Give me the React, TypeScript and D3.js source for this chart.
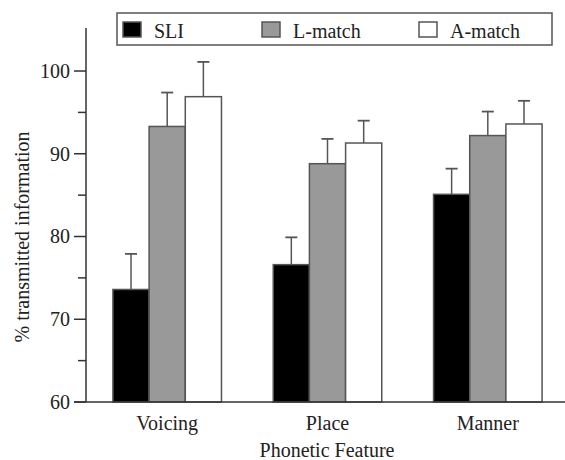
import * as d3 from "d3";
import React, { useEffect, useRef } from "react";

const features = ["Voicing", "Place", "Manner"];
const groups = ["SLI", "L-match", "A-match"];
const sliValues = [73.6, 76.6, 85.1];
const lMatchValues = [93.3, 88.8, 92.2];
const aMatchValues = [96.9, 91.3, 93.6];
const sliErrors = [4.3, 3.3, 3.1];
const lMatchErrors = [4.1, 3.0, 2.9];
const aMatchErrors = [4.2, 2.7, 2.8];
const majorTicks = [60, 70, 80, 90, 100];
const minorTicks = [65, 75, 85, 95];
const fills = ["#000000", "#999999", "#ffffff"];

function Chart() {
  const ref = useRef<SVGSVGElement | null>(null);

  useEffect(() => {
    const svg = d3.select(ref.current);
    svg.selectAll("*").remove();

    const axisX = 86;
    const values = [sliValues, lMatchValues, aMatchValues];
    const errors = [sliErrors, lMatchErrors, aMatchErrors];

    const y = d3.scaleLinear().domain([60, 105.2]).range([402, 28]);
    const x0 = d3
      .scaleBand()
      .domain(features)
      .range([axisX, axisX + 483])
      .paddingInner(0.323)
      .paddingOuter(0.168);
    const x1 = d3.scaleBand().domain(groups).range([0, x0.bandwidth()]);

    // bars + error bars
    groups.forEach((g, gi) => {
      const layer = svg.append("g");
      features.forEach((f, fi) => {
        const v = values[gi][fi];
        const e = errors[gi][fi];
        const cx = x0(f)! + x1(g)! + x1.bandwidth() / 2;
        layer
          .append("line")
          .attr("x1", cx)
          .attr("x2", cx)
          .attr("y1", y(v))
          .attr("y2", y(v + e))
          .attr("stroke", "#555")
          .attr("stroke-width", 1.5);
        layer
          .append("line")
          .attr("x1", cx - 6)
          .attr("x2", cx + 6)
          .attr("y1", y(v + e))
          .attr("y2", y(v + e))
          .attr("stroke", "#555")
          .attr("stroke-width", 1.8);
        layer
          .append("rect")
          .attr("x", x0(f)! + x1(g)!)
          .attr("y", y(v))
          .attr("width", x1.bandwidth())
          .attr("height", y(60) - y(v))
          .attr("fill", fills[gi])
          .attr("stroke", "#555")
          .attr("stroke-width", 1.5);
      });
    });

    // y axis
    svg
      .append("line")
      .attr("x1", axisX)
      .attr("x2", axisX)
      .attr("y1", y(105.2))
      .attr("y2", y(60))
      .attr("stroke", "#333")
      .attr("stroke-width", 1.5);
    svg
      .selectAll(".major")
      .data(majorTicks)
      .enter()
      .append("line")
      .attr("x1", axisX - 12)
      .attr("x2", axisX)
      .attr("y1", (d) => y(d))
      .attr("y2", (d) => y(d))
      .attr("stroke", "#333")
      .attr("stroke-width", 1.5);
    svg
      .selectAll(".minor")
      .data(minorTicks)
      .enter()
      .append("line")
      .attr("x1", axisX - 8)
      .attr("x2", axisX)
      .attr("y1", (d) => y(d))
      .attr("y2", (d) => y(d))
      .attr("stroke", "#333")
      .attr("stroke-width", 1.5);
    svg
      .selectAll(".ylab")
      .data(majorTicks)
      .enter()
      .append("text")
      .attr("x", axisX - 16)
      .attr("y", (d) => y(d))
      .attr("dy", "0.34em")
      .attr("text-anchor", "end")
      .text((d) => d);

    // x axis
    svg
      .append("line")
      .attr("x1", axisX - 12)
      .attr("x2", 570)
      .attr("y1", y(60))
      .attr("y2", y(60))
      .attr("stroke", "#333")
      .attr("stroke-width", 1.5);
    svg
      .selectAll(".xlab")
      .data(features)
      .enter()
      .append("text")
      .attr("x", (d) => x0(d)! + x0.bandwidth() / 2)
      .attr("y", 430)
      .attr("text-anchor", "middle")
      .text((d) => d);

    svg
      .append("text")
      .attr("x", 327)
      .attr("y", 457)
      .attr("text-anchor", "middle")
      .text("Phonetic Feature");

    svg
      .append("text")
      .attr("transform", "translate(29,237) rotate(-90)")
      .attr("text-anchor", "middle")
      .text("% transmitted information");

    // legend
    const legend = svg.append("g");
    legend
      .append("rect")
      .attr("x", 117)
      .attr("y", 13)
      .attr("width", 435)
      .attr("height", 32)
      .attr("fill", "#fff")
      .attr("stroke", "#555")
      .attr("stroke-width", 1.5);
    const legendX = [123, 262, 419];
    groups.forEach((g, i) => {
      legend
        .append("rect")
        .attr("x", legendX[i])
        .attr("y", 22)
        .attr("width", 18)
        .attr("height", 15)
        .attr("fill", fills[i])
        .attr("stroke", "#555")
        .attr("stroke-width", 1.5);
      legend
        .append("text")
        .attr("x", legendX[i] + 31)
        .attr("y", 38)
        .text(g);
    });
  }, []);

  return (
    <svg
      ref={ref}
      width={565}
      height={460}
      style={{
        position: "absolute",
        left: 0,
        top: 0,
        background: "#fff",
        fontFamily: "Liberation Serif, DejaVu Serif, serif",
        fontSize: 20,
        fill: "#222",
      }}
    />
  );
}

export default function App() {
  return <Chart />;
}
